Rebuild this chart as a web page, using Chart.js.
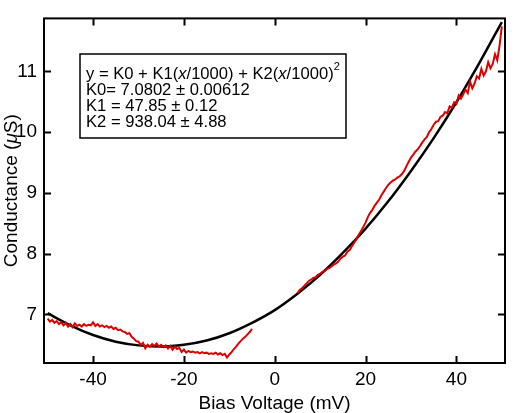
<!DOCTYPE html>
<html>
<head>
<meta charset="utf-8">
<script src="https://cdn.jsdelivr.net/npm/chart.js@4/dist/chart.umd.min.js"></script>
<style>
  body { margin: 0; background: #fff; }
  #wrap { position: relative; width: 519px; height: 413px; }
</style>
</head>
<body>
<div id="wrap"><canvas id="grafico"></canvas></div>
<script>
// barrido negativo (mV) y conductancia medida (uS)
const leftBias = [-50, -49.5, -49, -48.5, -48, -47.5, -47, -46.5, -46, -45.5, -45, -44.5, -44, -43.5, -43, -42.5, -42, -41.5, -41, -40.5,
  -40, -39.5, -39, -38.5, -38, -37.5, -37, -36.5, -36, -35.5, -35, -34.5, -34, -33.5, -33, -32.5, -32, -31.5, -31, -30.5,
  -30, -29.5, -29, -28.5, -28, -27.5, -27, -26.5, -26, -25.5, -25, -24.5, -24, -23.5, -23, -22.5, -22, -21.5, -21, -20.5,
  -20, -19.5, -19, -18.5, -18, -17.5, -17, -16.5, -16, -15.5, -15, -14.5, -14, -13.5, -13, -12.5, -12, -11.5, -11, -10.5,
  -10, -9.5, -9, -8.5, -8, -7.5, -7, -6.5, -6, -5.5, -5];
const leftCond = [6.93, 6.88, 6.91, 6.86, 6.89, 6.84, 6.87, 6.82, 6.86, 6.80, 6.84, 6.79, 6.85, 6.81, 6.83, 6.80, 6.84, 6.81, 6.83, 6.82,
  6.87, 6.81, 6.84, 6.80, 6.82, 6.79, 6.81, 6.78, 6.80, 6.76, 6.78, 6.74, 6.75, 6.72, 6.71, 6.68, 6.69, 6.63, 6.60, 6.56,
  6.55, 6.50, 6.53, 6.44, 6.50, 6.47, 6.51, 6.48, 6.52, 6.47, 6.50, 6.46, 6.49, 6.44, 6.48, 6.42, 6.47, 6.43, 6.45, 6.38,
  6.42, 6.37, 6.40, 6.38, 6.39, 6.37, 6.38, 6.36, 6.38, 6.36, 6.37, 6.35, 6.36, 6.35, 6.37, 6.34, 6.36, 6.33, 6.35, 6.29,
  6.34, 6.38, 6.43, 6.47, 6.52, 6.56, 6.60, 6.63, 6.67, 6.71, 6.76];

// barrido positivo
const rightBias = [5, 5.5, 6, 6.5, 7, 7.5, 8, 8.5, 9, 9.5, 10, 10.5, 11, 11.5, 12, 12.5, 13, 13.5, 14, 14.5,
  15, 15.5, 16, 16.5, 17, 17.5, 18, 18.5, 19, 19.5, 20, 20.5, 21, 21.5, 22, 22.5, 23, 23.5, 24, 24.5,
  25, 25.5, 26, 26.5, 27, 27.5, 28, 28.5, 29, 29.5, 30, 30.5, 31, 31.5, 32, 32.5, 33, 33.5, 34, 34.5,
  35, 35.5, 36, 36.5, 37, 37.5, 38, 38.5, 39, 39.5, 40, 40.5, 41, 41.5, 42, 42.5, 43, 43.5, 44, 44.5,
  45, 45.5, 46, 46.5, 47, 47.5, 48, 48.5, 49, 49.5, 50];
const rightCond = [7.35, 7.40, 7.43, 7.47, 7.51, 7.55, 7.57, 7.60, 7.61, 7.65, 7.67, 7.70, 7.71, 7.75, 7.76, 7.79, 7.82, 7.84, 7.87, 7.92,
  7.95, 7.97, 8.03, 8.06, 8.12, 8.18, 8.24, 8.31, 8.37, 8.44, 8.51, 8.60, 8.67, 8.72, 8.79, 8.84, 8.89, 8.96, 9.02, 9.08,
  9.13, 9.17, 9.20, 9.22, 9.25, 9.27, 9.31, 9.36, 9.44, 9.51, 9.58, 9.63, 9.68, 9.72, 9.77, 9.83, 9.88, 9.92, 10.00, 10.05,
  10.12, 10.17, 10.18, 10.25, 10.27, 10.33, 10.31, 10.42, 10.40, 10.49, 10.46, 10.60, 10.55, 10.62, 10.70, 10.64, 10.83, 10.72, 10.80, 10.92,
  10.88, 11.04, 10.93, 11.00, 11.15, 11.05, 11.12, 11.28, 11.18, 11.42, 11.74];

// curva de ajuste
const fitBias = [-50, -45, -40, -35, -30, -25, -20, -15, -10, -5, 0, 5, 10, 15, 20, 25, 30, 35, 40, 45, 50];
const fitCond = [7.02, 6.82, 6.66, 6.55, 6.49, 6.47, 6.50, 6.57, 6.69, 6.86, 7.07, 7.34, 7.65, 8.01, 8.41, 8.86, 9.36, 9.90, 10.49, 11.13, 11.81];

const xTicks = [-40, -20, 0, 20, 40];
const yTicks = [7, 8, 9, 10, 11];

const FONT = '"Liberation Sans", Arial, Helvetica, sans-serif';

function puntos(xs, ys) {
    return xs.map((x, i) => ({ x: x, y: ys[i] }));
}

// dibuja texto con partes en cursiva / superindice
function drawRuns(ctx, runs, x, y, size) {
    let cx = x;
    runs.forEach(r => {
        const s = r.sup ? Math.round(size * 0.68) : size;
        ctx.font = (r.italic ? 'italic ' : '') + s + 'px ' + FONT;
        ctx.fillText(r.t, cx, r.sup ? y - size * 0.55 : y);
        cx += ctx.measureText(r.t).width;
    });
}

const fitLines = [
    [{ t: 'y = K0 + K1(' }, { t: 'x', italic: true }, { t: '/1000) + K2(' }, { t: 'x', italic: true }, { t: '/1000)' }, { t: '2', sup: true }],
    [{ t: 'K0= 7.0802 \u00b1 0.00612' }],
    [{ t: 'K1 = 47.85 \u00b1 0.12' }],
    [{ t: 'K2 = 938.04 \u00b1 4.88' }]
];

const marco = {
    id: 'marco',
    afterDraw(chart) {
        const ctx = chart.ctx;
        const a = chart.chartArea;
        const sx = chart.scales.x, sy = chart.scales.y;
        ctx.save();
        ctx.strokeStyle = '#000';
        ctx.lineWidth = 2;
        ctx.strokeRect(a.left, a.top, a.right - a.left, a.bottom - a.top);
        // ticks hacia adentro en los cuatro lados
        ctx.beginPath();
        xTicks.forEach(v => {
            const px = Math.round(sx.getPixelForValue(v)) + 0.5;
            ctx.moveTo(px, a.bottom); ctx.lineTo(px, a.bottom - 7);
            ctx.moveTo(px, a.top); ctx.lineTo(px, a.top + 7);
        });
        yTicks.forEach(v => {
            const py = Math.round(sy.getPixelForValue(v)) + 0.5;
            ctx.moveTo(a.left, py); ctx.lineTo(a.left + 7, py);
            ctx.moveTo(a.right, py); ctx.lineTo(a.right - 7, py);
        });
        ctx.stroke();

        // cuadro con el ajuste
        ctx.lineWidth = 1.5;
        ctx.fillStyle = '#fff';
        ctx.fillRect(80, 54, 266, 84);
        ctx.strokeRect(80, 54, 266, 84);
        ctx.fillStyle = '#000';
        ctx.textBaseline = 'alphabetic';
        ctx.textAlign = 'left';
        fitLines.forEach((runs, i) => drawRuns(ctx, runs, 86, 79 + i * 16, 16.6));

        // titulos de ejes
        ctx.textAlign = 'center';
        ctx.font = '19px ' + FONT;
        ctx.fillText('Bias Voltage (mV)', (a.left + a.right) / 2, 409);

        ctx.translate(17, (a.top + a.bottom) / 2);
        ctx.rotate(-Math.PI / 2);
        ctx.textAlign = 'left';
        const parts = [{ t: 'Conductance (' }, { t: '\u03bc', italic: true }, { t: 'S)' }];
        let w = 0;
        parts.forEach(p => { ctx.font = (p.italic ? 'italic ' : '') + '19px ' + FONT; w += ctx.measureText(p.t).width; });
        drawRuns(ctx, parts, -w / 2, 0, 19);
        ctx.restore();
    }
};

const context = document.getElementById('grafico').getContext('2d');

const grafico = new Chart(context, {
    type: 'line',
    data: {
        datasets: [
            { label: 'datos -', data: puntos(leftBias, leftCond), borderColor: '#dd0000', borderWidth: 2, pointRadius: 0, tension: 0 },
            { label: 'datos +', data: puntos(rightBias, rightCond), borderColor: '#dd0000', borderWidth: 2, pointRadius: 0, tension: 0 },
            { label: 'ajuste', data: puntos(fitBias, fitCond), borderColor: '#000', borderWidth: 2.5, pointRadius: 0, cubicInterpolationMode: 'monotone' }
        ]
    },
    options: {
        responsive: true,
        maintainAspectRatio: false,
        animation: false,
        layout: { padding: { top: 13, right: 14, left: 0, bottom: 0 } },
        plugins: { legend: { display: false }, tooltip: { enabled: false } },
        scales: {
            x: {
                type: 'linear',
                min: -50.8,
                max: 50.7,
                afterBuildTicks: s => { s.ticks = xTicks.map(v => ({ value: v })); },
                afterFit: s => { s.height = 50; },
                grid: { display: false, drawTicks: false },
                border: { display: false },
                ticks: { padding: 5, color: '#000', font: { family: FONT, size: 19 } }
            },
            y: {
                min: 6.2,
                max: 11.87,
                afterBuildTicks: s => { s.ticks = yTicks.map(v => ({ value: v })); },
                afterFit: s => { s.width = 44; },
                grid: { display: false, drawTicks: false },
                border: { display: false },
                ticks: { padding: 7, color: '#000', font: { family: FONT, size: 19 } }
            }
        }
    },
    plugins: [marco]
});
</script>
</body>
</html>
